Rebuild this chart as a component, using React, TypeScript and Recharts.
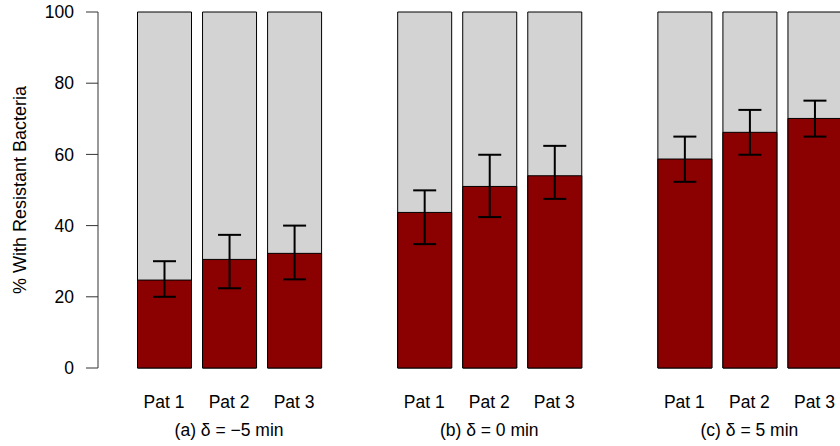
import { BarChart, Bar, XAxis, YAxis, ErrorBar } from 'recharts';

// 11 slots: three patients per panel, one empty slot between panels
const patients = ['Pat 1', 'Pat 2', 'Pat 3', '', 'Pat 1', 'Pat 2', 'Pat 3', '', 'Pat 1', 'Pat 2', 'Pat 3'];
const panelLabels = ['', '(a) δ = −5 min', '', '', '', '(b) δ = 0 min', '', '', '', '(c) δ = 5 min', ''];

const resistant = [24.7, 30.5, 32.2, null, 43.7, 51.0, 54.0, null, 58.7, 66.2, 70.1];
const lower = [20.0, 22.4, 24.9, null, 34.8, 42.4, 47.5, null, 52.3, 59.9, 65.0];
const upper = [30.0, 37.4, 40.0, null, 49.9, 59.9, 62.4, null, 65.0, 72.5, 75.1];

const yTicks = [0, 20, 40, 60, 80, 100];

const data = patients.map((pat, i) => {
  const v = resistant[i];
  return {
    pat,
    panel: panelLabels[i],
    total: v == null ? null : 100,
    resistant: v,
    err: v == null ? null : [v - (lower[i] as number), (upper[i] as number) - v],
  };
});

const font = { fontFamily: '"Liberation Sans", Arial, sans-serif', fontSize: 17.5, fill: '#000' };

export default function App() {
  return (
    <div style={{ position: 'fixed', left: 0, top: 0, width: 840, height: 446, overflow: 'hidden', background: '#fff' }}>
      <BarChart width={847} height={446} data={data} margin={{ top: 12, right: 0, left: 0, bottom: 18 }}>
        <YAxis
          domain={[0, 100]}
          ticks={yTicks}
          width={98}
          tickSize={12}
          tickMargin={12}
          stroke="#333"
          tick={font}
          label={{
            value: '% With Resistant Bacteria',
            angle: -90,
            position: 'insideLeft',
            offset: 20,
            style: { ...font, fontSize: 18, textAnchor: 'middle' },
          }}
        />
        <XAxis
          dataKey="pat"
          height={30}
          interval={0}
          axisLine={false}
          tickLine={false}
          tickSize={0}
          tickMargin={28}
          padding={{ left: 33.5, right: 0 }}
          tick={font}
        />
        <XAxis
          xAxisId="panel"
          dataKey="panel"
          height={30}
          interval={0}
          axisLine={false}
          tickLine={false}
          tickSize={0}
          tickMargin={26}
          padding={{ left: 33.5, right: 0 }}
          tick={font}
        />
        <Bar xAxisId="panel" dataKey="total" barSize={54} fill="#d3d3d3" stroke="#000" strokeWidth={1} isAnimationActive={false} />
        <Bar dataKey="resistant" barSize={54} fill="#8b0000" stroke="#000" strokeWidth={1} isAnimationActive={false}>
          <ErrorBar dataKey="err" width={11.5} stroke="#000" strokeWidth={2} />
        </Bar>
      </BarChart>
    </div>
  );
}
